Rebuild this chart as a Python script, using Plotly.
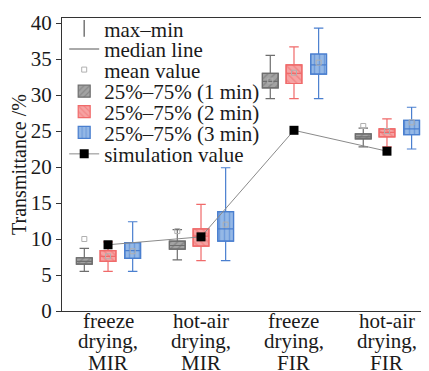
import plotly.graph_objects as go

# ---------------- data ----------------
category_lines = [
    ["freeze", "drying,", "MIR"],
    ["hot-air", "drying,", "MIR"],
    ["freeze", "drying,", "FIR"],
    ["hot-air", "drying,", "FIR"],
]
cat_pos = [1, 2, 3, 4]

series_names = ["25%–75% (1 min)", "25%–75% (2 min)", "25%–75% (3 min)"]

# 1 min
min_1 = [5.5, 7.1, 29.5, 22.8]
q1_1 = [6.5, 8.6, 31.0, 23.9]
med_1 = [6.9, 9.1, 31.9, 24.2]
q3_1 = [7.4, 9.7, 33.0, 24.6]
max_1 = [8.7, 11.3, 35.5, 25.4]
mean_1 = [10.0, 11.1, 32.0, 25.7]

# 2 min
min_2 = [5.5, 7.0, 29.5, 22.8]
q1_2 = [6.9, 9.0, 31.6, 24.2]
med_2 = [7.6, 10.4, 33.0, 24.8]
q3_2 = [8.4, 11.4, 34.2, 25.3]
max_2 = [9.6, 14.8, 36.7, 26.7]
mean_2 = [7.6, 10.4, 33.1, 25.0]

# 3 min
min_3 = [5.5, 7.0, 29.5, 22.5]
q1_3 = [7.3, 9.7, 32.9, 24.5]
med_3 = [8.4, 11.4, 34.2, 25.3]
q3_3 = [9.5, 13.8, 35.7, 26.5]
max_3 = [12.4, 19.9, 39.3, 28.3]
mean_3 = [8.3, 12.0, 34.5, 26.2]

simulation = [9.2, 10.3, 25.1, 22.2]

y_ticks = [0, 5, 10, 15, 20, 25, 30, 35, 40]

# ---------------- styles ----------------
FONT = "Liberation Serif, DejaVu Serif, Times New Roman, serif"
TXT = "#1a1a1a"
offsets = [-0.255, 0.0, 0.265]
box_w = 0.17
fills = ["#a3a3a3", "#f6a3a3", "#94b8e6"]
edges = ["#6e6e6e", "#f06a6a", "#4a7fcf"]
hatch = ["/", "\\", "|"]

stats = [
    (min_1, q1_1, med_1, q3_1, max_1, mean_1),
    (min_2, q1_2, med_2, q3_2, max_2, mean_2),
    (min_3, q1_3, med_3, q3_3, max_3, mean_3),
]

fig = go.Figure()

# legend-only items
fig.add_trace(go.Scatter(
    x=[None], y=[None], mode="markers", name="max–min",
    marker=dict(symbol="line-ns-open", size=12, color="#777777",
                line=dict(color="#777777", width=1.5)),
    legend="legend"))
fig.add_trace(go.Scatter(
    x=[None], y=[None], mode="lines", name="median line",
    line=dict(color="#555555", width=1), legend="legend2"))

# patterned interquartile boxes (bars)
for i, (mn, q1, md, q3, mx, me) in enumerate(stats):
    xs = [c + offsets[i] for c in cat_pos]
    fig.add_trace(go.Bar(
        x=xs, base=q1, y=[b - a for a, b in zip(q1, q3)], width=box_w,
        name=series_names[i], legend="legend%d" % (i + 4),
        marker=dict(color=fills[i], line=dict(color=edges[i], width=1.2),
                    pattern=dict(shape=hatch[i], fgcolor=edges[i], size=5, solidity=0.3)),
        hoverinfo="skip"))

# whiskers + median via box traces
for i, (mn, q1, md, q3, mx, me) in enumerate(stats):
    xs = [c + offsets[i] for c in cat_pos]
    fig.add_trace(go.Box(
        x=xs, q1=q1, median=md, q3=q3, lowerfence=mn, upperfence=mx,
        width=box_w, whiskerwidth=0.6, boxpoints=False,
        fillcolor="rgba(0,0,0,0)", line=dict(color=edges[i], width=1.2),
        showlegend=False))

# mean markers
mean_x, mean_y = [], []
for i, (mn, q1, md, q3, mx, me) in enumerate(stats):
    mean_x += [c + offsets[i] for c in cat_pos]
    mean_y += me
fig.add_trace(go.Scatter(
    x=mean_x, y=mean_y, mode="markers", name="mean value", legend="legend3",
    marker=dict(symbol="square-open", size=5, color="#b0b0b0", line=dict(width=1))))

# simulation values
fig.add_trace(go.Scatter(
    x=cat_pos, y=simulation, mode="lines+markers", name="simulation value",
    legend="legend7",
    line=dict(color="#8a8a8a", width=1),
    marker=dict(symbol="square", size=9, color="black")))

# category labels (one annotation per line)
line_y = [-0.035, -0.103, -0.178]
for c, lines in zip(cat_pos, category_lines):
    for k, t in enumerate(lines):
        fig.add_annotation(x=c, y=line_y[k], xref="x", yref="paper", text=t,
                           showarrow=False, yanchor="middle", xanchor="center",
                           font=dict(family=FONT, size=21, color=TXT))

# separate legends, one per row
row_px = [23, 44, 65, 87, 108, 129, 151]
legs = {}
for k, yp in enumerate(row_px):
    key = "legend" if k == 0 else "legend%d" % (k + 1)
    legs[key] = dict(x=0.006, xanchor="left", y=(311 - yp) / 299, yanchor="middle",
                     bgcolor="rgba(0,0,0,0)", font=dict(family=FONT, size=21, color=TXT),
                     borderwidth=0)

# page body has an 8px margin: figure is sized/positioned to compensate
fig.update_layout(
    width=421, height=363,
    margin=dict(l=54, r=0, t=4, b=60),
    paper_bgcolor="white", plot_bgcolor="white",
    barmode="overlay", boxmode="overlay",
    font=dict(family=FONT, size=19, color=TXT),
    **legs,
)
fig.update_xaxes(range=[0.505, 4.452], showgrid=False, zeroline=False,
                 showticklabels=False, ticks="", showline=True, linecolor="#333333",
                 linewidth=1.2, mirror=True)
fig.update_yaxes(range=[0, 40.7], tickvals=y_ticks, showgrid=False, zeroline=False,
                 ticks="outside", ticklen=5, tickcolor="#333333", showline=True,
                 linecolor="#333333", linewidth=1.2,
                 tickfont=dict(family=FONT, size=21, color=TXT),
                 title=dict(text="Transmittance /%", font=dict(family=FONT, size=20, color=TXT),
                            standoff=2))

fig.write_html("out.html")
